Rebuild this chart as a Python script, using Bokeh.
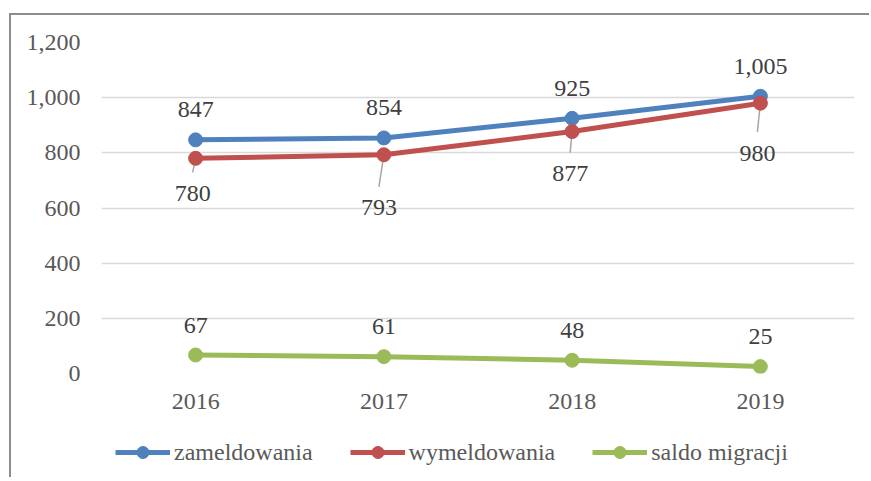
from bokeh.plotting import figure
from bokeh.layouts import column
from bokeh.models import (ColumnDataSource, Legend, LegendItem, FixedTicker,
                          NumeralTickFormatter, Range1d)
from bokeh.embed import file_html
from bokeh.resources import INLINE
from bokeh.core.properties import value

# ---- data ----
years = ["2016", "2017", "2018", "2019"]
series_names = ["zameldowania", "wymeldowania", "saldo migracji"]
zameldowania = [847, 854, 925, 1005]
wymeldowania = [780, 793, 877, 980]
saldo_migracji = [67, 61, 48, 25]
y_ticks = [0, 200, 400, 600, 800, 1000, 1200]

# ---- styling / layout constants ----
FRAME_W, FRAME_H = 753, 331
BL, BR, BT, BB = 90, 15, 27, 60
W = BL + FRAME_W + BR
H = BT + FRAME_H + BB
LEG_H = 44
Y_MAX = 1200
UPP = Y_MAX / FRAME_H          # data units per pixel (y)
PPC = FRAME_W / 4.0            # pixels per category (x)

FONT = "Liberation Serif"
FS = "24px"
BLUE, RED, GREEN = "#4f81bd", "#c0504d", "#9bbb59"
TXT = "#404040"
AX = "#595959"

# label offsets in pixels (red labels were manually placed below the points)
above_off = -30
red_dy = [35, 53, 42, 50]
red_dx = [-3, -5, -2, -3]

xs = list(range(len(years)))

p = figure(width=W, height=H, x_range=Range1d(-0.5, 3.5), y_range=Range1d(0, Y_MAX),
           min_border_left=BL, min_border_right=BR, min_border_top=BT, min_border_bottom=BB,
           output_backend="svg", toolbar_location=None)
p.outline_line_color = None
p.background_fill_color = "white"
p.border_fill_color = "white"
p.xgrid.visible = False
p.ygrid.grid_line_color = "#d9d9d9"
p.ygrid.grid_line_width = 1.5
p.ygrid.ticker = FixedTicker(ticks=y_ticks)

p.yaxis.ticker = FixedTicker(ticks=y_ticks)
p.yaxis.formatter = NumeralTickFormatter(format="0,0")
p.xaxis.ticker = FixedTicker(ticks=xs)
p.xaxis.major_label_overrides = {i: y for i, y in enumerate(years)}
for ax in (p.xaxis, p.yaxis):
    ax.axis_line_color = None
    ax.major_tick_line_color = None
    ax.minor_tick_line_color = None
    ax.major_tick_in = 0
    ax.major_tick_out = 0
    ax.major_label_text_font = FONT
    ax.major_label_text_font_size = FS
    ax.major_label_text_color = AX
p.yaxis.major_label_standoff = 21
p.xaxis.major_label_standoff = 20

# leader lines for red labels
lead = ColumnDataSource(dict(
    x0=xs,
    y0=wymeldowania,
    x1=[x + dx / PPC for x, dx in zip(xs, red_dx)],
    y1=[v - (dy - 21) * UPP for v, dy in zip(wymeldowania, red_dy)],
))
p.segment(x0="x0", y0="y0", x1="x1", y1="y1", source=lead, line_color="#a6a6a6", line_width=1.5)

colors = [BLUE, RED, GREEN]
for vals, col in zip((zameldowania, wymeldowania, saldo_migracji), colors):
    src = ColumnDataSource(dict(x=xs, y=vals))
    p.line("x", "y", source=src, line_color=col, line_width=5, line_join="round")
    p.scatter("x", "y", source=src, size=14, fill_color=col, line_color=col)

for vals in (zameldowania, saldo_migracji):
    src = ColumnDataSource(dict(x=xs, y=vals, lab=[f"{v:,}" for v in vals]))
    p.text("x", "y", text="lab", source=src, y_offset=above_off, text_align="center",
           text_baseline="middle", text_font=value(FONT), text_font_size=FS, text_color=TXT)

src_r = ColumnDataSource(dict(x=xs, y=wymeldowania, lab=[f"{v:,}" for v in wymeldowania],
                              dx=red_dx, dy=red_dy))
p.text("x", "y", text="lab", source=src_r, x_offset="dx", y_offset="dy", text_align="center",
       text_baseline="middle", text_font=value(FONT), text_font_size=FS, text_color=TXT)

# ---- legend strip (own small figure below the chart; its frame aligns with the chart's) ----
lp = figure(width=W, height=LEG_H, x_range=Range1d(0, 1), y_range=Range1d(0, 1),
            min_border=0, x_axis_location=None, y_axis_location=None,
            output_backend="svg", toolbar_location=None)
lp.outline_line_color = None
lp.grid.visible = False
items = []
for name, col in zip(series_names, colors):
    e = ColumnDataSource(dict(x=[-10, -9], y=[-10, -10]))   # off-range, legend swatch only
    lr = lp.line("x", "y", source=e, line_color=col, line_width=5)
    sr = lp.scatter("x", "y", source=e, size=14, fill_color=col, line_color=col)
    items.append(LegendItem(label=name, renderers=[lr, sr]))
legend = Legend(items=items, orientation="horizontal", location=(14, 10),
                padding=0, margin=0, spacing=37, glyph_width=55, glyph_height=30,
                label_height=30, label_standoff=4, border_line_color=None,
                background_fill_alpha=0,
                label_text_font=FONT, label_text_font_size=FS, label_text_color=AX)
lp.add_layout(legend)

layout = column(p, lp, spacing=0)
layout.styles = {"border-top": "2px solid #8c8c8c", "border-left": "2px solid #8c8c8c",
                 "margin-top": "13px", "margin-left": "9px"}

open("out.html", "w").write(file_html(layout, INLINE))
